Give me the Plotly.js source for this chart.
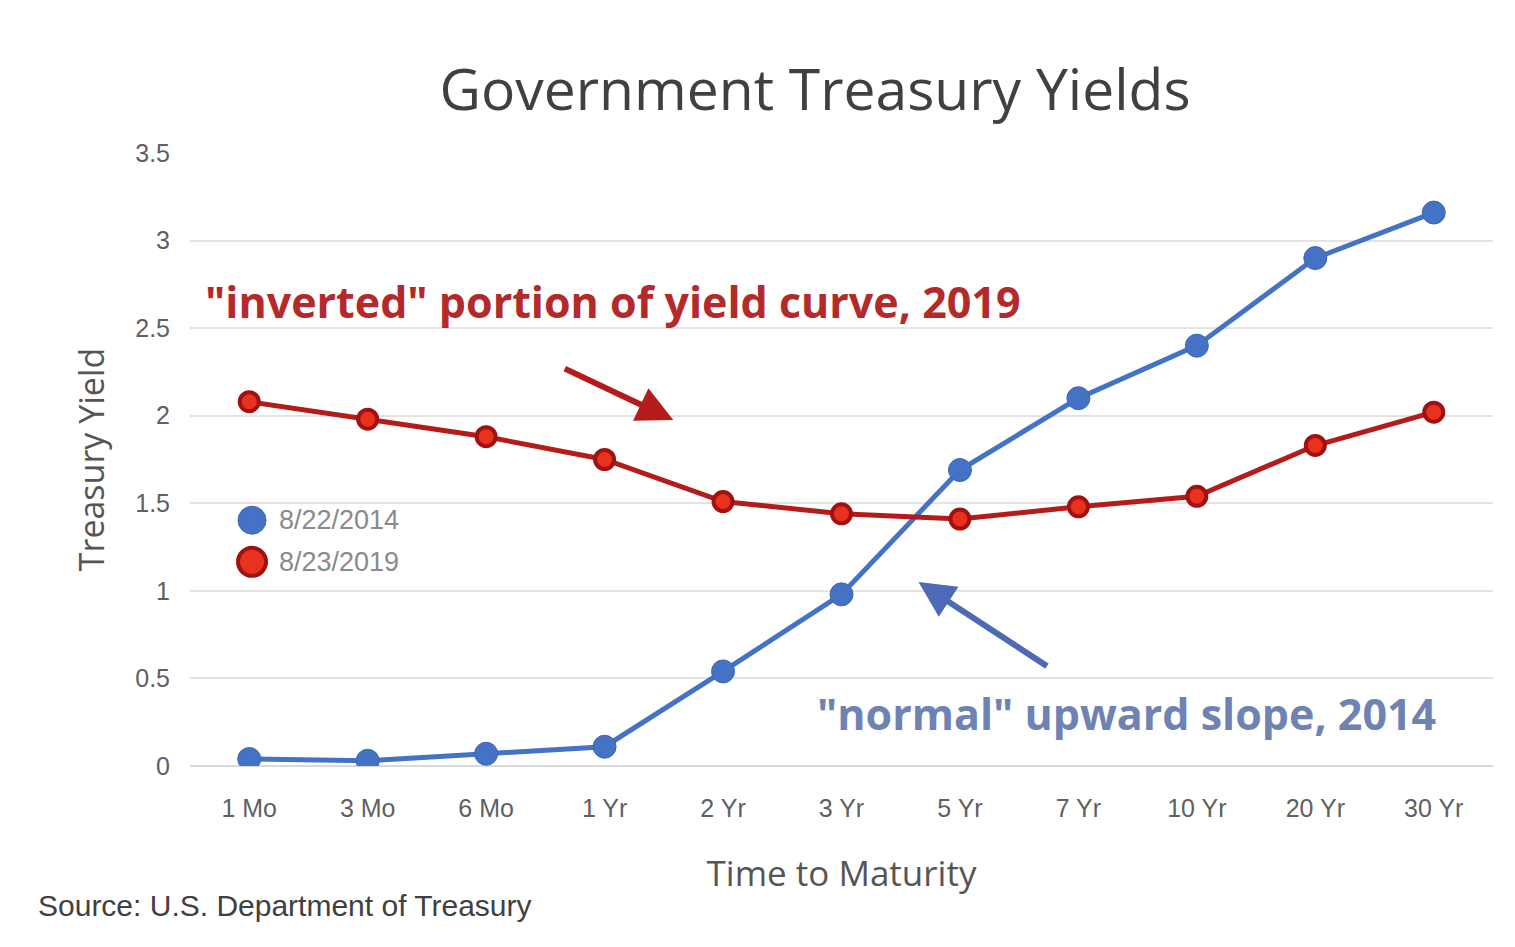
<!DOCTYPE html>
<html>
<head>
<meta charset="utf-8">
<script src="https://cdn.plot.ly/plotly-3.0.1.min.js"></script>
<style>html,body{margin:0;padding:0;background:#fff;}#chart{width:1515px;height:947px;}</style>
</head>
<body>
<div id="chart"></div>
<script>
const maturities = ["1 Mo","3 Mo","6 Mo","1 Yr","2 Yr","3 Yr","5 Yr","7 Yr","10 Yr","20 Yr","30 Yr"];
const yields2014 = [0.04,0.03,0.07,0.11,0.54,0.98,1.69,2.10,2.40,2.90,3.16];
const yields2019 = [2.08,1.98,1.88,1.75,1.51,1.44,1.41,1.48,1.54,1.83,2.02];
const seriesNames = ["8/22/2014","8/23/2019"];
const yTicks = [0,0.5,1,1.5,2,2.5,3,3.5];

const idx = maturities.map((_, i) => i);

const blueColor = "#4472C4", blueEdge = "#3d66b5";
const redFill = "#E8321E", redEdge = "#A01212", redLine = "#B41C1C";

const traces = [
  {
    x: idx, y: yields2014, name: seriesNames[0], type: "scatter", mode: "lines+markers",
    line: {color: blueColor, width: 5},
    marker: {color: blueColor, size: 23, line: {color: blueEdge, width: 1}}
  },
  {
    x: idx, y: yields2019, name: seriesNames[1], type: "scatter", mode: "lines+markers",
    line: {color: redLine, width: 5},
    marker: {color: redFill, size: 19, line: {color: redEdge, width: 4}}
  }
];

// Custom legend (large round swatches as in the reference)
const legendX = 0.0476, legendTextX = 0.067, legendY = [0.401, 0.333];
const legendSwatch = (i, fill, edge, ew) => ({
  type: "circle", xref: "paper", yref: "paper", xsizemode: "pixel", ysizemode: "pixel",
  xanchor: legendX, yanchor: legendY[i], x0: -14, x1: 14, y0: -14, y1: 14,
  fillcolor: fill, line: {color: edge, width: ew}
});
const legendLabel = (i) => ({
  text: seriesNames[i], xref: "paper", yref: "paper", x: legendTextX, y: legendY[i],
  xanchor: "left", yanchor: "middle", showarrow: false,
  font: {family: "Liberation Sans, sans-serif", size: 27, color: "#8a8a8a"}
});

const tickFont = {family: "Liberation Sans, Arial, sans-serif", size: 25, color: "#606060"};

const layout = {
  width: 1515, height: 947,
  paper_bgcolor: "#ffffff", plot_bgcolor: "#ffffff",
  margin: {l: 190, r: 22, t: 153, b: 181},
  showlegend: false,
  title: {text: "Government Treasury Yields", x: 0.538, xanchor: "center", y: 0.905, yanchor: "middle",
          font: {family: "Open Sans, sans-serif", size: 57, color: "#404040"}},
  xaxis: {
    type: "linear", range: [-0.5, 10.5],
    tickvals: idx, ticktext: maturities,
    showgrid: false, zeroline: false, showline: false,
    ticks: "outside", ticklen: 20, tickcolor: "rgba(0,0,0,0)",
    tickfont: tickFont,
    title: {text: "Time to Maturity", standoff: 40, font: {family: "Open Sans, sans-serif", size: 35, color: "#555555"}}
  },
  yaxis: {
    range: [0, 3.5], tickvals: yTicks,
    showgrid: true, gridcolor: "#e3e3e3", gridwidth: 2,
    zeroline: true, zerolinecolor: "#d9d9d9", zerolinewidth: 2,
    showline: false,
    ticks: "outside", ticklen: 14, tickcolor: "rgba(0,0,0,0)",
    tickfont: tickFont,
    title: {text: "Treasury Yield", standoff: 20, font: {family: "Open Sans, sans-serif", size: 34, color: "#555555"}}
  },
  shapes: [
    legendSwatch(0, blueColor, blueEdge, 1),
    legendSwatch(1, redFill, redEdge, 4)
  ],
  annotations: [
    legendLabel(0), legendLabel(1),
    {text: "\"inverted\" portion of yield curve, 2019", xref: "x", yref: "y", x: 3.07, y: 2.65,
     showarrow: false, font: {family: "Open Sans, sans-serif", size: 43, color: "#B42A2A", weight: "bold"}},
    {text: "\"normal\" upward slope, 2014", xref: "x", yref: "y", x: 7.41, y: 0.30,
     showarrow: false, font: {family: "Open Sans, sans-serif", size: 43, color: "#6F82B4", weight: "bold"}},
    {text: "", xref: "x", yref: "y", x: 3.58, y: 1.976, ax: -110, ay: -52,
     showarrow: true, arrowhead: 2, arrowsize: 1.2, arrowwidth: 6, arrowcolor: redLine},
    {text: "", xref: "x", yref: "y", x: 5.65, y: 1.05, ax: 130, ay: 85,
     showarrow: true, arrowhead: 2, arrowsize: 1.2, arrowwidth: 6, arrowcolor: "#4D6BB5"},
    {text: "Source: U.S. Department of Treasury", xref: "paper", yref: "paper", x: -0.118, y: -0.227,
     xanchor: "left", yanchor: "middle", showarrow: false,
     font: {family: "Liberation Sans, sans-serif", size: 30, color: "#404040"}}
  ]
};

Plotly.newPlot("chart", traces, layout, {displayModeBar: false, staticPlot: true});
</script>
</body>
</html>
